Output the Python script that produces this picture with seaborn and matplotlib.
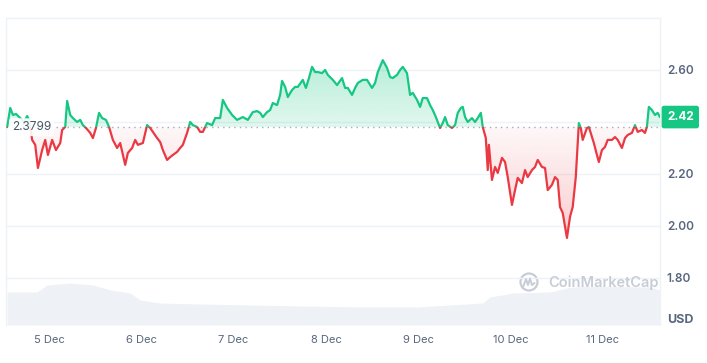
import numpy as np
import pandas as pd
import matplotlib
matplotlib.use("Agg")
import matplotlib.pyplot as plt
import matplotlib.transforms as mtransforms
from matplotlib.colors import to_rgb
from matplotlib.path import Path
from matplotlib.patches import Rectangle, Circle
from matplotlib.lines import Line2D
import seaborn as sns

# hours after 5 Dec 00:00 and price in USD
hours = [
    -10.9, -10.1, -9.4, -8.6, -7.5, -6.5, -5.7, -5.2, -4.4, -3.6,
    -2.9, -1.8, -1.0, -0.3, 0.8, 1.8, 2.9, 3.4, 4.2, 4.7,
    5.5, 6.2, 7.3, 8.1, 8.8, 9.6, 10.7, 11.4, 12.2, 13.0,
    13.8, 14.8, 15.6, 16.6, 17.7, 18.5, 19.8, 20.5, 21.6, 22.4,
    23.1, 24.4, 25.5, 26.3, 28.1, 28.9, 29.6, 30.7, 31.5, 32.2,
    33.3, 34.1, 34.8, 35.9, 36.7, 37.4, 38.5, 39.3, 40.0, 41.1,
    42.4, 43.2, 44.5, 45.2, 46.3, 47.6, 48.9, 50.4, 51.7, 53.0,
    54.1, 54.9, 55.6, 56.7, 57.5, 58.2, 59.3, 60.1, 60.6, 61.4,
    62.1, 63.2, 64.0, 64.7, 66.0, 66.8, 67.6, 68.4, 69.2, 69.9,
    71.0, 71.8, 72.5, 73.8, 74.9, 76.2, 77.0, 77.7, 78.8, 79.6,
    80.3, 81.6, 82.7, 84.0, 84.8, 85.5, 86.8, 87.9, 88.7, 89.4,
    90.5, 91.3, 92.0, 93.1, 93.9, 94.6, 95.7, 96.5, 97.2, 98.3,
    99.1, 99.8, 100.6, 101.1, 101.7, 102.4, 103.0, 103.7, 104.8, 105.6,
    106.3, 107.1, 107.6, 108.2, 108.9, 110.0, 110.8, 111.5, 112.3, 112.8,
    113.6, 114.1, 114.4, 115.2, 116.0, 116.7, 117.8, 118.6, 119.3, 120.4,
    121.2, 121.9, 123.0, 123.8, 124.5, 125.6, 126.4, 127.1, 128.2, 129.0,
    129.7, 130.8, 131.6, 132.3, 132.9, 133.6, 134.7, 135.5, 136.2, 137.0,
    137.8, 138.3, 138.8, 139.9, 140.4, 141.2, 141.7, 142.5, 143.0, 143.8,
    144.6, 145.3, 146.4, 147.2, 147.9, 149.0, 149.8, 150.5, 151.6, 152.4,
    153.1, 154.2, 155.0, 155.5, 156.0, 156.8, 157.6, 158.3, 158.9,
]
price = [
    2.381, 2.454, 2.427, 2.431, 2.415, 2.400, 2.423, 2.408, 2.331, 2.312,
    2.223, 2.292, 2.331, 2.273, 2.331, 2.292, 2.319, 2.369, 2.381, 2.481,
    2.427, 2.415, 2.400, 2.408, 2.388, 2.377, 2.358, 2.338, 2.377, 2.435,
    2.415, 2.408, 2.381, 2.331, 2.300, 2.319, 2.235, 2.281, 2.300, 2.331,
    2.312, 2.319, 2.388, 2.377, 2.338, 2.323, 2.292, 2.254, 2.265, 2.273,
    2.285, 2.300, 2.312, 2.358, 2.400, 2.388, 2.381, 2.362, 2.362, 2.396,
    2.388, 2.415, 2.415, 2.485, 2.454, 2.427, 2.408, 2.419, 2.408, 2.438,
    2.442, 2.435, 2.419, 2.438, 2.446, 2.473, 2.465, 2.504, 2.558, 2.535,
    2.496, 2.523, 2.535, 2.535, 2.562, 2.531, 2.569, 2.612, 2.592, 2.592,
    2.588, 2.600, 2.581, 2.562, 2.542, 2.569, 2.531, 2.531, 2.504, 2.531,
    2.550, 2.562, 2.562, 2.531, 2.550, 2.592, 2.638, 2.608, 2.573, 2.569,
    2.581, 2.600, 2.612, 2.588, 2.504, 2.512, 2.485, 2.458, 2.492, 2.492,
    2.465, 2.446, 2.419, 2.400, 2.377, 2.396, 2.419, 2.388, 2.377, 2.388,
    2.435, 2.454, 2.458, 2.419, 2.400, 2.415, 2.400, 2.415, 2.435, 2.381,
    2.338, 2.215, 2.312, 2.177, 2.227, 2.204, 2.262, 2.246, 2.188, 2.081,
    2.138, 2.185, 2.165, 2.215, 2.188, 2.215, 2.227, 2.254, 2.227, 2.223,
    2.138, 2.158, 2.188, 2.177, 2.073, 2.050, 1.954, 2.035, 2.073, 2.188,
    2.396, 2.377, 2.331, 2.377, 2.381, 2.342, 2.319, 2.273, 2.246, 2.292,
    2.304, 2.331, 2.331, 2.342, 2.331, 2.300, 2.338, 2.350, 2.358, 2.388,
    2.362, 2.369, 2.358, 2.381, 2.458, 2.446, 2.427, 2.435, 2.419,
]

vol_hours = [-10.9, -3.1, -0.5, 5.5, 11.4, 15.9, 21.1, 23.7, 28.9, 39.3, 52.3, 65.3,
             80.9, 95.7, 104.3, 112.8, 114.7, 120.6, 130.3, 134.7, 138.8, 156.3, 158.9]
volume = [13.2, 13.2, 16.0, 16.8, 16.0, 14.0, 12.8, 10.0, 8.8, 8.4, 8.0, 7.6,
          7.2, 7.2, 8.0, 8.8, 11.2, 12.8, 13.2, 14.8, 15.6, 15.2, 14.0]

base_price = 2.3799
day_labels = ["5 Dec", "6 Dec", "7 Dec", "8 Dec", "9 Dec", "10 Dec", "11 Dec"]
y_ticks = [1.80, 2.00, 2.20, 2.40, 2.60]

GREEN = "#16c784"
RED = "#ea3943"
GREY = "#58667e"

start = pd.Timestamp("2024-12-05")
df = pd.DataFrame({"time": start + pd.to_timedelta(hours, unit="h"), "price": price})
vdf = pd.DataFrame({"time": start + pd.to_timedelta(vol_hours, unit="h"), "volume": volume})

sns.set_theme(style="white")
plt.rcParams["font.family"] = ["Inter", "DejaVu Sans"]

fig = plt.figure(figsize=(7.07, 3.63), dpi=100)
ax = fig.add_axes([0.0085, 0.1047, 0.925, 0.8457])

# volume underneath
ax2 = ax.twinx()
ax2.fill_between(vdf["time"], vdf["volume"], color="#eef1f5", lw=0)
ax2.set_ylim(0, 122.8)
ax2.axis("off")
ax.set_zorder(ax2.get_zorder() + 1)
ax.patch.set_visible(False)

xmin = start + pd.Timedelta(hours=-11.2)
xmax = start + pd.Timedelta(hours=158.9)
ax.set_xlim(xmin, xmax)
ax2.set_xlim(xmin, xmax)
ax.set_ylim(1.619, 2.80)

# gradient fills between price and base line
def gradient_fill(where, color, y_lo, y_hi, a_lo, a_hi):
    poly = ax.fill_between(df["time"], df["price"], base_price, where=where,
                           interpolate=True, color="none", lw=0)
    clip = Path.make_compound_path(*poly.get_paths())
    grad = np.zeros((100, 1, 4))
    grad[..., :3] = to_rgb(color)
    grad[:, 0, 3] = np.linspace(a_lo, a_hi, 100)
    x0, x1 = ax.get_xlim()
    im = ax.imshow(grad, aspect="auto", origin="lower", extent=[x0, x1, y_lo, y_hi],
                   zorder=1, interpolation="bilinear")
    im.set_clip_path(clip, ax.transData)

p = np.array(price)
gradient_fill(p >= base_price, GREEN, base_price, 2.65, 0.13, 0.32)
gradient_fill(p <= base_price, RED, 1.94, base_price, 0.26, 0.04)

# price line, green above base and red below
blend = mtransforms.blended_transform_factory(ax.transAxes, ax.transData)
for color, y0 in [(GREEN, base_price), (RED, base_price - 5)]:
    sns.lineplot(data=df, x="time", y="price", color=color, lw=1.6, ax=ax, zorder=3)
    rect = Rectangle((0, y0), 1, 5, transform=blend, fill=False)
    ax.lines[-1].set_clip_path(rect)

ax.axhline(base_price, color="#a5adbb", lw=1, ls=(0, (1, 3)), zorder=2)

ax.set_xlim(xmin, xmax)
ax.set_ylim(1.619, 2.80)
ax.set_xlabel("")
ax.set_ylabel("")

ax.set_xticks(start + pd.to_timedelta(range(len(day_labels)), unit="D"))
ax.set_xticklabels(day_labels)
ax.yaxis.tick_right()
ax.set_yticks(y_ticks)
ax.set_yticklabels([f"{v:.2f}" if abs(v - 2.40) > 1e-6 else "" for v in y_ticks])
ax.tick_params(axis="x", length=0, pad=7, labelsize=8, labelcolor=GREY)
ax.tick_params(axis="y", length=0, pad=5, labelsize=8.5, labelcolor=GREY)
for lab in ax.get_yticklabels():
    lab.set_fontweight("semibold")

ax.grid(axis="y", color="#eff2f5", lw=1)
ax.grid(axis="x", visible=False)
for side in ["left", "right", "top"]:
    ax.spines[side].set_color("#eff2f5")
    ax.spines[side].set_linewidth(1)
ax.spines["bottom"].set_visible(False)

# labels for base and last price
ax.text(0.009, base_price, "2.3799", transform=blend, ha="left", va="center",
        fontsize=8.5, color="#4b5568", zorder=4,
        bbox=dict(boxstyle="round,pad=0.25", facecolor="white", edgecolor="none", alpha=0.9))
ax.annotate(f"{price[-1]:.2f}", xy=(1.0, price[-1]), xycoords=blend,
            xytext=(5, 0), textcoords="offset points", ha="left", va="center",
            fontsize=8.5, color="white", fontweight="bold", zorder=5, annotation_clip=False,
            bbox=dict(boxstyle="round,pad=0.45,rounding_size=0.2", facecolor=GREEN, edgecolor="none"))

fig.text(680 / 707, 1 - 320 / 363, "USD", ha="center", va="center",
         fontsize=9, fontweight="bold", color=GREY)

# watermark
wm = "#c7cdd6"
fig.text(548 / 707, 1 - 283 / 363, "CoinMarketCap", ha="left", va="center",
         fontsize=10.5, fontweight="semibold", color=wm)
fig.add_artist(Circle((5.29, 0.81), 0.085, transform=fig.dpi_scale_trans,
                      fill=False, edgecolor=wm, lw=1.6))
fig.add_artist(Line2D([5.235, 5.26, 5.28, 5.30, 5.32, 5.345],
                      [0.77, 0.84, 0.78, 0.845, 0.78, 0.80],
                      transform=fig.dpi_scale_trans, color=wm, lw=1.4))

fig.savefig("out.png", dpi=100, facecolor="white")
